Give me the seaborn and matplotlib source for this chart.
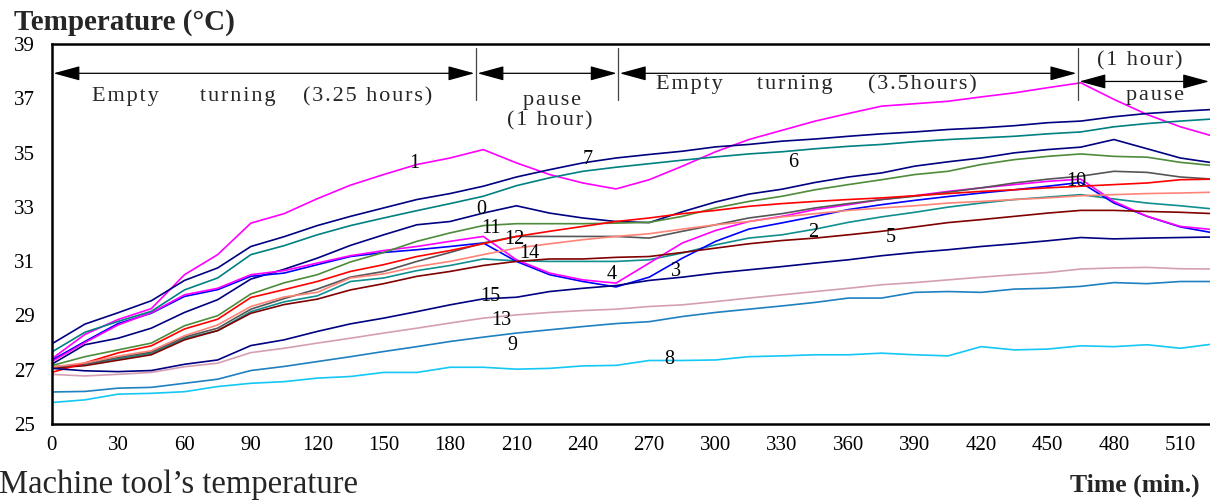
import matplotlib
matplotlib.use("Agg")
import matplotlib.pyplot as plt
import numpy as np
import pandas as pd
import seaborn as sns

# ---------------- data ----------------
minutes = [0, 15, 30, 45, 60, 75, 90, 105, 120, 135, 150, 165, 180, 195, 210, 225, 240, 255,
           270, 285, 300, 315, 330, 345, 360, 375, 390, 405, 420, 435, 450, 465, 480, 495, 510, 525]

s0 = [27.2, 27.92, 28.16, 28.53, 29.11, 29.58, 30.34, 30.7, 31.11, 31.58, 31.97, 32.34, 32.46, 32.77,
      33.04, 32.77, 32.59, 32.46, 32.42, 32.82, 33.18, 33.47, 33.65, 33.9, 34.1, 34.25, 34.5, 34.66,
      34.8, 34.99, 35.11, 35.2, 35.48, 35.14, 34.8, 34.62]
s1 = [27.4, 28.3, 28.85, 29.25, 30.5, 31.24, 32.4, 32.75, 33.3, 33.8, 34.19, 34.56, 34.8, 35.11,
      34.62, 34.19, 33.88, 33.66, 34.0, 34.5, 35.03, 35.48, 35.82, 36.16, 36.44, 36.71, 36.8, 36.89,
      37.05, 37.2, 37.39, 37.57, 36.96, 36.4, 35.95, 35.6]
s2 = [27.1, 27.2, 27.4, 27.6, 28.15, 28.44, 29.14, 29.5, 29.72, 30.25, 30.38, 30.65, 30.84, 31.08,
      31.01, 30.99, 30.99, 30.99, 31.05, 31.3, 31.6, 31.85, 31.97, 32.18, 32.43, 32.63, 32.8, 32.99,
      33.14, 33.27, 33.36, 33.45, 33.29, 33.14, 33.04, 32.92]
s3 = [27.35, 28.04, 28.7, 29.08, 29.7, 29.95, 30.44, 30.56, 30.87, 31.17, 31.32, 31.42, 31.54, 31.67,
      30.99, 30.5, 30.25, 30.05, 30.41, 31.11, 31.73, 32.18, 32.41, 32.65, 32.9, 33.08, 33.24, 33.38,
      33.51, 33.63, 33.76, 33.9, 33.14, 32.65, 32.26, 32.04]
s4 = [27.3, 28.0, 28.65, 29.1, 29.76, 30.0, 30.5, 30.65, 30.93, 31.2, 31.39, 31.54, 31.73, 31.91,
      31.05, 30.56, 30.31, 30.19, 30.93, 31.67, 32.13, 32.46, 32.65, 32.9, 33.08, 33.27, 33.41, 33.57,
      33.7, 33.82, 33.94, 34.02, 33.2, 32.65, 32.28, 32.16]
s5 = [27.05, 27.15, 27.35, 27.55, 28.1, 28.44, 29.08, 29.4, 29.6, 29.94, 30.17, 30.44, 30.62, 30.84,
      30.99, 31.08, 31.08, 31.14, 31.17, 31.32, 31.48, 31.64, 31.76, 31.85, 31.97, 32.1, 32.26, 32.42,
      32.53, 32.65, 32.77, 32.87, 32.87, 32.83, 32.8, 32.75]
s6 = [27.65, 28.38, 28.78, 29.15, 29.94, 30.38, 31.24, 31.57, 31.97, 32.31, 32.59, 32.86, 33.12, 33.39,
      33.78, 34.07, 34.31, 34.46, 34.59, 34.72, 34.84, 34.95, 35.03, 35.14, 35.23, 35.3, 35.4, 35.48,
      35.54, 35.6, 35.69, 35.76, 35.95, 36.07, 36.16, 36.24]
s7 = [27.95, 28.68, 29.1, 29.54, 30.29, 30.75, 31.54, 31.9, 32.31, 32.65, 32.96, 33.27, 33.49, 33.76,
      34.1, 34.37, 34.62, 34.8, 34.93, 35.05, 35.21, 35.3, 35.42, 35.5, 35.6, 35.69, 35.76, 35.85,
      35.91, 35.99, 36.1, 36.16, 36.32, 36.44, 36.52, 36.59]
s8 = [25.79, 25.89, 26.1, 26.13, 26.19, 26.38, 26.5, 26.56, 26.69, 26.75, 26.9, 26.9, 27.09, 27.09,
      27.02, 27.05, 27.14, 27.16, 27.34, 27.34, 27.36, 27.48, 27.51, 27.55, 27.55, 27.61, 27.55, 27.51,
      27.85, 27.73, 27.76, 27.88, 27.85, 27.92, 27.79, 27.95]
s9 = [26.18, 26.2, 26.32, 26.35, 26.5, 26.65, 26.97, 27.12, 27.3, 27.48, 27.67, 27.85, 28.04, 28.2,
      28.35, 28.47, 28.59, 28.7, 28.77, 28.96, 29.11, 29.23, 29.35, 29.48, 29.64, 29.64, 29.85, 29.88,
      29.85, 29.97, 30.0, 30.07, 30.21, 30.17, 30.25, 30.25]
s10 = [27.1, 27.2, 27.45, 27.65, 28.2, 28.53, 29.23, 29.62, 29.97, 30.41, 30.62, 30.99, 31.32, 31.67,
       31.91, 31.91, 31.91, 31.91, 31.85, 32.1, 32.34, 32.59, 32.75, 32.96, 33.12, 33.27, 33.39, 33.54,
       33.7, 33.88, 34.02, 34.13, 34.31, 34.27, 34.1, 34.02]
s11 = [27.15, 27.48, 27.73, 27.98, 28.62, 28.99, 29.79, 30.2, 30.5, 30.97, 31.32, 31.73, 32.04, 32.31,
       32.38, 32.38, 32.38, 32.4, 32.43, 32.65, 32.96, 33.2, 33.39, 33.63, 33.82, 34.0, 34.19, 34.31,
       34.56, 34.74, 34.86, 34.95, 34.86, 34.83, 34.64, 34.52]
s12 = [26.9, 27.25, 27.62, 27.88, 28.5, 28.86, 29.66, 29.95, 30.25, 30.62, 30.87, 31.17, 31.39, 31.64,
       31.91, 32.1, 32.28, 32.46, 32.59, 32.75, 32.87, 33.02, 33.12, 33.2, 33.27, 33.33, 33.41, 33.49,
       33.57, 33.63, 33.7, 33.76, 33.82, 33.88, 34.0, 34.02]
s13 = [26.83, 26.77, 26.83, 26.9, 27.11, 27.24, 27.63, 27.79, 27.98, 28.16, 28.35, 28.53, 28.72, 28.9,
       29.02, 29.11, 29.18, 29.23, 29.33, 29.39, 29.51, 29.64, 29.76, 29.88, 30.0, 30.13, 30.21, 30.31,
       30.41, 30.5, 30.58, 30.71, 30.75, 30.77, 30.72, 30.71]
s14 = [27.1, 27.25, 27.5, 27.7, 28.25, 28.65, 29.33, 29.68, 29.85, 30.38, 30.53, 30.8, 30.99, 31.24,
       31.48, 31.64, 31.79, 31.91, 32.01, 32.18, 32.34, 32.46, 32.63, 32.75, 32.87, 32.96, 33.04, 33.14,
       33.2, 33.27, 33.33, 33.41, 33.45, 33.49, 33.51, 33.54]
s15 = [27.05, 26.96, 26.93, 26.97, 27.2, 27.36, 27.89, 28.1, 28.41, 28.69, 28.9, 29.14, 29.39, 29.61,
       29.67, 29.88, 30.0, 30.1, 30.29, 30.41, 30.56, 30.68, 30.8, 30.93, 31.05, 31.2, 31.32, 31.42,
       31.54, 31.64, 31.75, 31.87, 31.82, 31.85, 31.87, 31.89]

series_names = ["0", "1", "2", "3", "4", "5", "6", "7", "8", "9", "10", "11", "12", "13", "14", "15"]
series_values = [s0, s1, s2, s3, s4, s5, s6, s7, s8, s9, s10, s11, s12, s13, s14, s15]
series_colors = ["#000080", "#FF00FF", "#108F8F", "#0000FF", "#FF00FF", "#800000", "#008080",
                 "#000080", "#14C8F5", "#1E80C0", "#555555", "#4E8B3A", "#FF0000", "#D49FB3",
                 "#FF8478", "#000080"]

# label text positions (minutes, temperature)
label_t = [194, 164, 344, 282, 253, 379, 335, 242, 279, 208, 463, 198.5, 209, 203, 216, 198]
label_T = [32.9, 34.58, 32.05, 30.6, 30.5, 31.86, 34.65, 34.76, 27.36, 27.89, 33.95, 32.22, 31.8, 28.8, 31.27, 29.69]

# ---------------- frame ----------------
rows = []
for name, vals in zip(series_names, series_values):
    for t, v in zip(minutes, vals):
        rows.append((name, t, v))
df = pd.DataFrame(rows, columns=["sensor", "time", "temp"])

sns.set_style("white")
plt.rcParams["font.family"] = ["Liberation Serif", "DejaVu Serif"]

W, H = 1210, 500
fig = plt.figure(figsize=(W / 100, H / 100), dpi=100)
left_px, right_px, top_px, bot_px = 51.7, 1210, 44, 424
ax = fig.add_axes([left_px / W, 1 - bot_px / H, (right_px - left_px) / W, (bot_px - top_px) / H])

palette = dict(zip(series_names, series_colors))
sns.lineplot(data=df, x="time", y="temp", hue="sensor", palette=palette, hue_order=series_names,
             estimator=None, sort=False, legend=False, linewidth=1.2, ax=ax)

ax.set_xlim(0, 523.4)
ax.set_ylim(25, 39)
ax.set_xlabel("")
ax.set_ylabel("")
ax.set_xticks(list(range(0, 511, 30)))
ax.set_xticks(list(range(15, 521, 30)), minor=True)
ax.set_yticks([25, 27, 29, 31, 33, 35, 37, 39])
ax.tick_params(axis="x", which="both", direction="inout", length=8, width=1, colors="black",
               labelsize=15, pad=5)
ax.tick_params(axis="y", which="major", direction="inout", length=10, width=1, colors="black",
               labelsize=15, pad=7)
for s in ["top", "bottom", "left"]:
    ax.spines[s].set_visible(True)
    ax.spines[s].set_color("black")
    ax.spines[s].set_linewidth(1.8)
ax.spines["right"].set_visible(False)
ax.grid(False)

# sensor labels
for name, t, T in zip(series_names, label_t, label_T):
    ax.text(t, T, name, ha="center", va="center", fontsize=14.5, color="black")

# segment separators and arrows
sep_t = [191.7, 256.0, 463.7]
for t in sep_t:
    ax.plot([t, t], [36.95, 38.87], color="#444444", lw=0.9, clip_on=False)

arrow_style = "<|-|>,head_length=1.1,head_width=0.3"
def darrow(x0, x1, y):
    ax.annotate("", xy=(x1, y), xytext=(x0, y),
                arrowprops=dict(arrowstyle=arrow_style, mutation_scale=15, color="black",
                                lw=0.9, shrinkA=0, shrinkB=0),
                annotation_clip=False)

darrow(0.8, 191.0, 37.92)
darrow(192.4, 255.3, 37.92)
darrow(256.7, 463.0, 37.92)
darrow(464.4, 523.0, 37.62)

hs = "\u200a"
def spaced(word):
    return hs.join(list(word))

ann_fs = 16
for word, t in zip(["Empty", "turning", "(3.25 hours)"], [33.3, 84.2, 142.7]):
    ax.text(t, 37.05, spaced(word), ha="center", va="center", fontsize=ann_fs)
for word, t in zip(["Empty", "turning", "(3.5hours)"], [288.2, 335.9, 393.3]):
    ax.text(t, 37.5, spaced(word), ha="center", va="center", fontsize=ann_fs)
ax.text(226, 36.93, spaced("pause"), ha="center", va="center", fontsize=ann_fs)
ax.text(225, 36.17, spaced("(1 hour)"), ha="center", va="center", fontsize=ann_fs)
ax.text(491.5, 38.38, spaced("(1 hour)"), ha="center", va="center", fontsize=ann_fs)
ax.text(498.5, 37.12, spaced("pause"), ha="center", va="center", fontsize=ann_fs)

# titles
fig.text(14 / W, 1 - 23 / H, "Temperature (°C)", ha="left", va="center", fontsize=21, fontweight="bold")
fig.text(1200 / W, 1 - 485 / H, "Time (min.)", ha="right", va="center", fontsize=18.5, fontweight="bold")
fig.text(-1 / W, 1 - 485 / H, "Machine tool\u2019s temperature", ha="left", va="center", fontsize=23.5)

fig.savefig("out.png", dpi=100)
